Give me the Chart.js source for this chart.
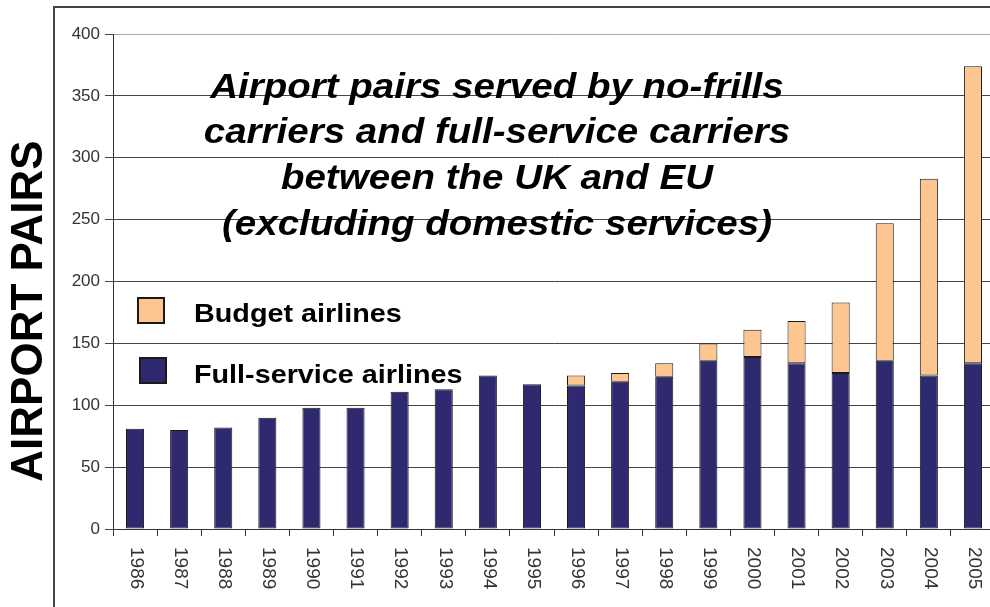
<!DOCTYPE html>
<html>
<head>
<meta charset="utf-8">
<title>Airport pairs</title>
<script src="https://cdn.jsdelivr.net/npm/chart.js@4.4.1/dist/chart.umd.min.js"></script>
<style>
    html, body { margin: 0; padding: 0; background: #fff; overflow: hidden; }
    #wrap { position: relative; width: 1000px; height: 607px; }
</style>
</head>
<body>
<div id="wrap"><canvas id="pairsChart"></canvas></div>
<script>
const years = ['1986', '1987', '1988', '1989', '1990', '1991', '1992', '1993', '1994', '1995',
               '1996', '1997', '1998', '1999', '2000', '2001', '2002', '2003', '2004', '2005'];
const fullService = [81, 80, 82, 90, 98, 98, 111, 113, 124, 117, 116, 119, 123, 136, 139, 134, 126, 136, 124, 134];
const budget = [null, null, null, null, null, null, null, null, null, null, 8, 7, 11, 14, 22, 34, 57, 111, 159, 240];
const yTicks = [0, 50, 100, 150, 200, 250, 300, 350, 400];

const titleLines = [
    'Airport pairs served by no-frills',
    'carriers and full-service carriers',
    'between the UK and EU',
    '(excluding domestic services)'
];
const yTitle = 'AIRPORT PAIRS';
const legendLabels = ['Budget airlines', 'Full-service airlines'];

const NAVY = '#2f2a70';
const PEACH = '#fdc690';
const INK = '#1a1a1a';
const FONT = '"Liberation Sans", Arial, sans-serif';

// stretched text helper, the headings are set a bit wider than plain Arial
function wideText(ctx, text, x, y, sx, align) {
    ctx.save();
    ctx.translate(x, y);
    ctx.scale(sx, 1);
    ctx.textAlign = align;
    ctx.fillText(text, 0, 0);
    ctx.restore();
}

const decorations = {
    id: 'decorations',
    afterDraw(chart) {
        const ctx = chart.ctx;
        const xs = chart.scales.x;

        // frame
        ctx.save();
        ctx.strokeStyle = '#444';
        ctx.lineWidth = 2;
        ctx.strokeRect(54, 7, 1000, 700);

        // heading
        ctx.fillStyle = '#000';
        ctx.font = 'italic bold 35px ' + FONT;
        ctx.textBaseline = 'alphabetic';
        const baselines = [98, 143, 189, 235];
        titleLines.forEach((t, i) => wideText(ctx, t, 497, baselines[i], 1.1, 'center'));

        // legend
        const boxes = [[138, 298, PEACH], [140, 358, NAVY]];
        const textBase = [322, 383];
        ctx.font = 'bold 25px ' + FONT;
        legendLabels.forEach((t, i) => {
            const [bx, by, c] = boxes[i];
            ctx.fillStyle = c;
            ctx.fillRect(bx, by, 26, 25);
            ctx.strokeStyle = INK;
            ctx.lineWidth = 2;
            ctx.strokeRect(bx, by, 26, 25);
            ctx.fillStyle = '#000';
            wideText(ctx, t, 194, textBase[i], 1.15, 'left');
        });

        // y axis title
        ctx.save();
        ctx.translate(30, 311);
        ctx.rotate(-Math.PI / 2);
        ctx.font = 'bold 44px ' + FONT;
        ctx.textAlign = 'center';
        ctx.textBaseline = 'middle';
        ctx.fillText(yTitle, 0, 0);
        ctx.restore();

        // year labels, turned to read downwards
        ctx.fillStyle = '#333';
        ctx.font = '19px ' + FONT;
        ctx.textAlign = 'left';
        ctx.textBaseline = 'middle';
        years.forEach((y, i) => {
            ctx.save();
            ctx.translate(xs.getPixelForValue(i) + 1, 547);
            ctx.rotate(Math.PI / 2);
            ctx.fillText(y, 0, 0);
            ctx.restore();
        });
        ctx.restore();
    }
};

new Chart(document.getElementById('pairsChart'), {
    type: 'bar',
    data: {
        labels: years,
        datasets: [
            {
                label: legendLabels[1],
                data: fullService,
                backgroundColor: NAVY,
                borderColor: INK,
                borderWidth: 1,
                borderSkipped: false,
                barPercentage: 0.41,
                categoryPercentage: 1
            },
            {
                label: legendLabels[0],
                data: budget,
                backgroundColor: PEACH,
                borderColor: INK,
                borderWidth: 1,
                borderSkipped: false,
                barPercentage: 0.41,
                categoryPercentage: 1
            }
        ]
    },
    options: {
        responsive: true,
        maintainAspectRatio: false,
        animation: false,
        layout: { padding: { left: 0, top: 34, right: 5, bottom: 0 } },
        plugins: {
            legend: { display: false },
            tooltip: { enabled: false }
        },
        scales: {
            x: {
                stacked: true,
                grid: { drawOnChartArea: false, drawTicks: true, tickLength: 7, color: '#333', offset: true },
                border: { color: '#333', width: 1 },
                ticks: { display: false },
                afterFit: s => { s.height = 78; }
            },
            y: {
                stacked: true,
                min: 0,
                max: 400,
                afterBuildTicks: s => { s.ticks = yTicks.map(v => ({ value: v })); },
                ticks: {
                    color: '#333',
                    padding: 5,
                    font: { family: FONT, size: 17 }
                },
                grid: {
                    color: c => (c.tick && c.tick.value === 400 ? '#aaa' : '#444'),
                    tickColor: '#444',
                    tickLength: 8
                },
                border: { color: '#333', width: 1 },
                afterFit: s => { s.width = 113; }
            }
        }
    },
    plugins: [decorations]
});
</script>
</body>
</html>
